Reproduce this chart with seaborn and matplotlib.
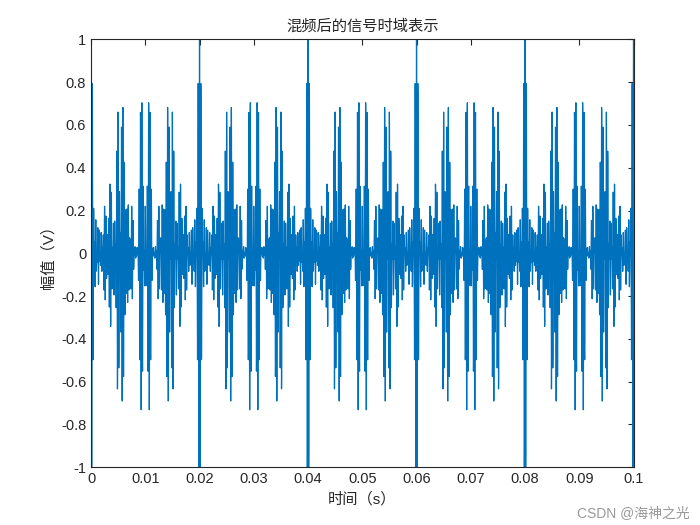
import numpy as np
import matplotlib.pyplot as plt
import seaborn as sns

# signal parameters (estimated by eye, not read from the picture)
fs = 50000
duration = 0.1
env_freqs = [50, 250, 400, 600, 800]
env_amps = [0.22, 0.22, 0.22, 0.22, 0.22]
carrier_freq = 4000

x_ticks = [0, 0.01, 0.02, 0.03, 0.04, 0.05, 0.06, 0.07, 0.08, 0.09, 0.1]
y_ticks = [-1, -0.8, -0.6, -0.4, -0.2, 0, 0.2, 0.4, 0.6, 0.8, 1]

t = np.arange(0, duration + 1 / fs, 1 / fs)
env = sum(a * np.cos(2 * np.pi * f * t) for f, a in zip(env_freqs, env_amps))
y = env * np.cos(2 * np.pi * carrier_freq * t)

sns.set_style('white')
plt.rcParams['font.family'] = ['Liberation Sans', 'Noto Sans CJK SC']

fig, ax = plt.subplots(figsize=(7, 5.25), dpi=100)
sns.lineplot(x=t, y=y, ax=ax, color='#0072BD', linewidth=0.9)
ax.set_xlim(0, 0.1)
ax.set_ylim(-1, 1)
ax.set_xticks(x_ticks)
ax.set_xticklabels([f'{v:g}' for v in x_ticks])
ax.set_yticks(y_ticks)
ax.set_yticklabels([f'{v:g}' for v in y_ticks])
ax.tick_params(direction='in', length=4, top=True, right=True, labelsize=10.5)
for s in ax.spines.values():
    s.set_color('#262626')
    s.set_linewidth(0.8)
ax.set_title('混频后的信号时域表示', fontsize=11)
ax.set_xlabel('时间（s）', fontsize=11)
ax.set_ylabel('幅值（V）', fontsize=11)
plt.subplots_adjust(left=0.13, right=0.905, top=0.925, bottom=0.11)
fig.text(0.985, 0.01, 'CSDN @海神之光', ha='right', va='bottom', fontsize=10, color='#999999')
plt.savefig('out.png')
